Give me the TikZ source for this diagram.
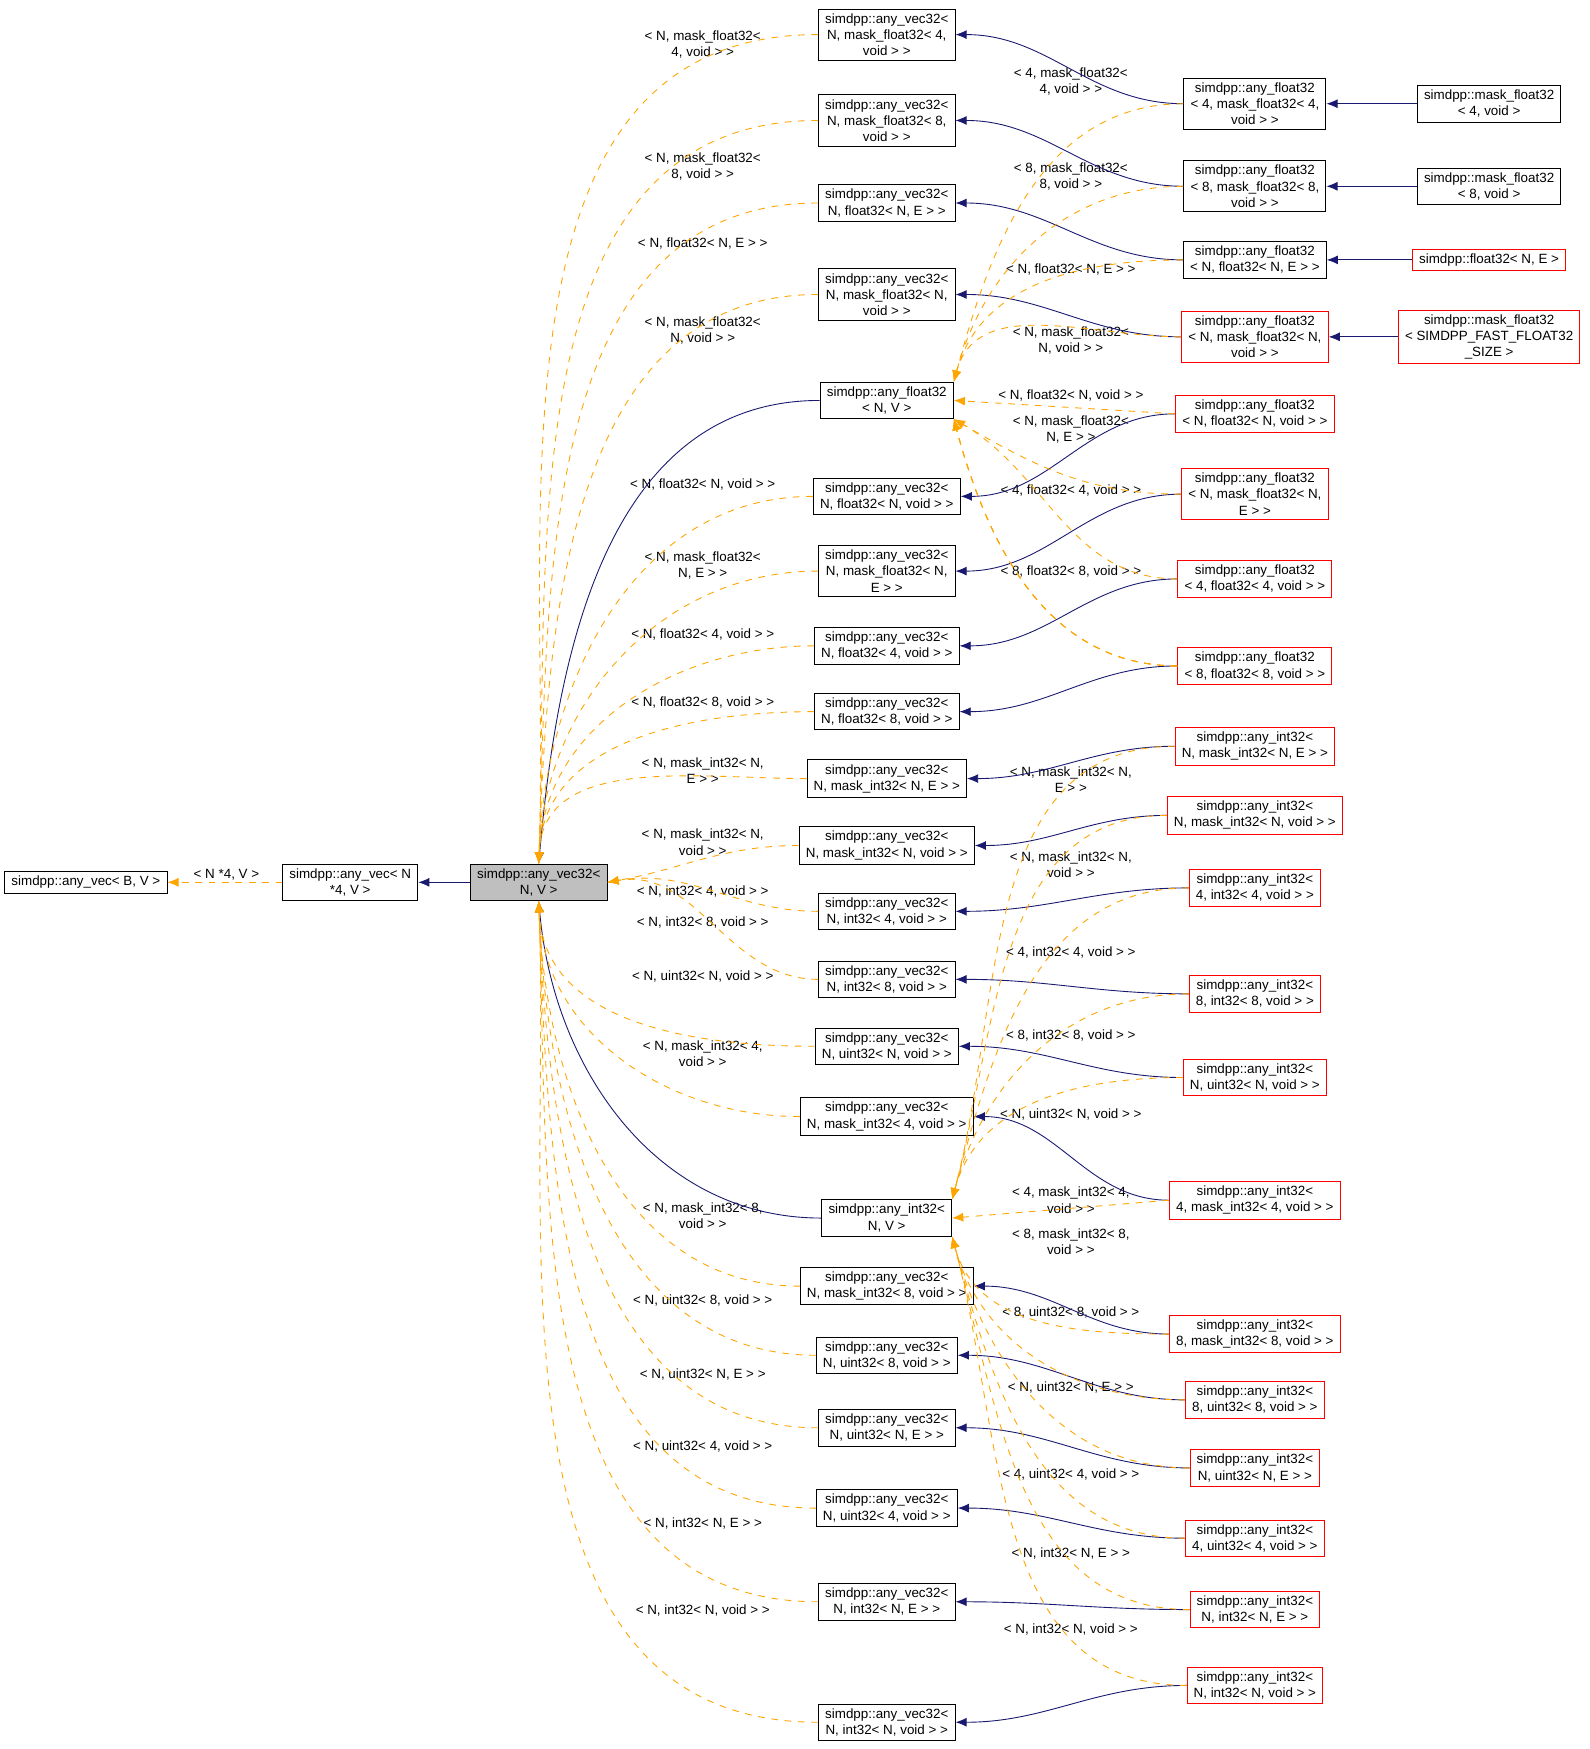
\documentclass[tikz,border=0pt]{standalone}
\usepackage{fontspec}
\setmainfont{Liberation Sans}
\usetikzlibrary{positioning, arrows.meta}

\definecolor{edgeblue}{RGB}{25,25,112}
\definecolor{tplorange}{RGB}{255,165,0}

\tikzset{
  cls/.style={draw=black, fill=white, align=center, inner xsep=3pt, inner ysep=2pt,
    font=\fontsize{6}{7.25}\selectfont},
  ext/.style={cls, draw=red},
  cur/.style={cls, fill=black!25},
  inh/.style={draw=edgeblue, -{Latex[length=5pt,width=4pt]}},
  tpl/.style={draw=tplorange, dashed, -{Latex[length=5pt,width=4pt]}},
  lbl/.style={align=center, inner sep=0pt, font=\fontsize{6}{7.25}\selectfont}
}

\begin{document}
\begin{tikzpicture}[x=0.5pt, y=-0.5pt]
\useasboundingbox (0,0) rectangle (1425,1568);

% left part
\node[cls] (vecB) at (77,791) {simdpp::any\_vec< B, V >};
\node[cls] (vecN) at (314,791) {simdpp::any\_vec< N\\ *4, V >};
\node[cur] (v32) at (483,791) {simdpp::any\_vec32<\\N, V >};

% middle column
\node[cls] (m1) at (795,31) {simdpp::any\_vec32<\\N, mask\_float32< 4,\\void > >};
\node[cls] (m2) at (795,108) {simdpp::any\_vec32<\\N, mask\_float32< 8,\\void > >};
\node[cls] (m3) at (795,182) {simdpp::any\_vec32<\\N, float32< N, E > >};
\node[cls] (m4) at (795,264) {simdpp::any\_vec32<\\N, mask\_float32< N,\\void > >};
\node[cls] (af32) at (795,359) {simdpp::any\_float32\\< N, V >};
\node[cls] (m6) at (795,445) {simdpp::any\_vec32<\\N, float32< N, void > >};
\node[cls] (m7) at (795,512) {simdpp::any\_vec32<\\N, mask\_float32< N,\\E > >};
\node[cls] (m8) at (795,579) {simdpp::any\_vec32<\\N, float32< 4, void > >};
\node[cls] (m9) at (795,638) {simdpp::any\_vec32<\\N, float32< 8, void > >};
\node[cls] (m10) at (795,698) {simdpp::any\_vec32<\\N, mask\_int32< N, E > >};
\node[cls] (m11) at (795,758) {simdpp::any\_vec32<\\N, mask\_int32< N, void > >};
\node[cls] (m12) at (795,817) {simdpp::any\_vec32<\\N, int32< 4, void > >};
\node[cls] (m13) at (795,878) {simdpp::any\_vec32<\\N, int32< 8, void > >};
\node[cls] (m14) at (795,938) {simdpp::any\_vec32<\\N, uint32< N, void > >};
\node[cls] (m15) at (795,1001) {simdpp::any\_vec32<\\N, mask\_int32< 4, void > >};
\node[cls] (ai32) at (795,1092) {simdpp::any\_int32<\\N, V >};
\node[cls] (m17) at (795,1153) {simdpp::any\_vec32<\\N, mask\_int32< 8, void > >};
\node[cls] (m18) at (795,1215) {simdpp::any\_vec32<\\N, uint32< 8, void > >};
\node[cls] (m19) at (795,1280) {simdpp::any\_vec32<\\N, uint32< N, E > >};
\node[cls] (m20) at (795,1352) {simdpp::any\_vec32<\\N, uint32< 4, void > >};
\node[cls] (m21) at (795,1436) {simdpp::any\_vec32<\\N, int32< N, E > >};
\node[cls] (m22) at (795,1544) {simdpp::any\_vec32<\\N, int32< N, void > >};

% right column
\node[cls] (r1) at (1125,93) {simdpp::any\_float32\\< 4, mask\_float32< 4,\\void > >};
\node[cls] (r2) at (1125,167) {simdpp::any\_float32\\< 8, mask\_float32< 8,\\void > >};
\node[cls] (r3) at (1125,233) {simdpp::any\_float32\\< N, float32< N, E > >};
\node[ext] (r4) at (1125,302) {simdpp::any\_float32\\< N, mask\_float32< N,\\void > >};
\node[ext] (r5) at (1125,371) {simdpp::any\_float32\\< N, float32< N, void > >};
\node[ext] (r6) at (1125,443) {simdpp::any\_float32\\< N, mask\_float32< N,\\E > >};
\node[ext] (r7) at (1125,519) {simdpp::any\_float32\\< 4, float32< 4, void > >};
\node[ext] (r8) at (1125,597) {simdpp::any\_float32\\< 8, float32< 8, void > >};
\node[ext] (r9) at (1125,669) {simdpp::any\_int32<\\N, mask\_int32< N, E > >};
\node[ext] (r10) at (1125,731) {simdpp::any\_int32<\\N, mask\_int32< N, void > >};
\node[ext] (r11) at (1125,796) {simdpp::any\_int32<\\4, int32< 4, void > >};
\node[ext] (r12) at (1125,891) {simdpp::any\_int32<\\8, int32< 8, void > >};
\node[ext] (r13) at (1125,966) {simdpp::any\_int32<\\N, uint32< N, void > >};
\node[ext] (r14) at (1125,1076) {simdpp::any\_int32<\\4, mask\_int32< 4, void > >};
\node[ext] (r15) at (1125,1196) {simdpp::any\_int32<\\8, mask\_int32< 8, void > >};
\node[ext] (r16) at (1125,1255) {simdpp::any\_int32<\\8, uint32< 8, void > >};
\node[ext] (r17) at (1125,1316) {simdpp::any\_int32<\\N, uint32< N, E > >};
\node[ext] (r18) at (1125,1379) {simdpp::any\_int32<\\4, uint32< 4, void > >};
\node[ext] (r19) at (1125,1443) {simdpp::any\_int32<\\N, int32< N, E > >};
\node[ext] (r20) at (1125,1511) {simdpp::any\_int32<\\N, int32< N, void > >};

% far right
\node[cls] (f1) at (1335,93) {simdpp::mask\_float32\\< 4, void >};
\node[cls] (f2) at (1335,167) {simdpp::mask\_float32\\< 8, void >};
\node[ext] (f3) at (1335,233) {simdpp::float32< N, E >};
\node[ext] (f4) at (1335,302) {simdpp::mask\_float32\\< SIMDPP\_FAST\_FLOAT32\\\_SIZE >};

% labels, left side
\node[lbl] (lN) at (203,784) {< N *4, V >};
\node[lbl] (l1) at (630,40) {< N, mask\_float32<\\4, void > >};
\node[lbl] (l2) at (630,149) {< N, mask\_float32<\\8, void > >};
\node[lbl] (l3) at (630,218) {< N, float32< N, E > >};
\node[lbl] (l4) at (630,296) {< N, mask\_float32<\\N, void > >};
\node[lbl] (l6) at (630,434) {< N, float32< N, void > >};
\node[lbl] (l7) at (630,507) {< N, mask\_float32<\\N, E > >};
\node[lbl] (l8) at (630,569) {< N, float32< 4, void > >};
\node[lbl] (l9) at (630,630) {< N, float32< 8, void > >};
\node[lbl] (l10) at (630,691) {< N, mask\_int32< N,\\E > >};
\node[lbl] (l11) at (630,755) {< N, mask\_int32< N,\\void > >};
\node[lbl] (l12) at (630,799) {< N, int32< 4, void > >};
\node[lbl] (l13) at (630,827) {< N, int32< 8, void > >};
\node[lbl] (l14) at (630,875) {< N, uint32< N, void > >};
\node[lbl] (l15) at (630,945) {< N, mask\_int32< 4,\\void > >};
\node[lbl] (l17) at (630,1090) {< N, mask\_int32< 8,\\void > >};
\node[lbl] (l18) at (630,1166) {< N, uint32< 8, void > >};
\node[lbl] (l19) at (630,1232) {< N, uint32< N, E > >};
\node[lbl] (l20) at (630,1297) {< N, uint32< 4, void > >};
\node[lbl] (l21) at (630,1366) {< N, int32< N, E > >};
\node[lbl] (l22) at (630,1444) {< N, int32< N, void > >};

% labels, right side
\node[lbl] (k1) at (960,73) {< 4, mask\_float32<\\4, void > >};
\node[lbl] (k2) at (960,158) {< 8, mask\_float32<\\8, void > >};
\node[lbl] (k3) at (960,242) {< N, float32< N, E > >};
\node[lbl] (k4) at (960,305) {< N, mask\_float32<\\N, void > >};
\node[lbl] (k5) at (960,355) {< N, float32< N, void > >};
\node[lbl] (k6) at (960,385) {< N, mask\_float32<\\N, E > >};
\node[lbl] (k7) at (960,440) {< 4, float32< 4, void > >};
\node[lbl] (k8) at (960,512) {< 8, float32< 8, void > >};
\node[lbl] (k9) at (960,699) {< N, mask\_int32< N,\\E > >};
\node[lbl] (k10) at (960,775) {< N, mask\_int32< N,\\void > >};
\node[lbl] (k11) at (960,854) {< 4, int32< 4, void > >};
\node[lbl] (k12) at (960,928) {< 8, int32< 8, void > >};
\node[lbl] (k13) at (960,999) {< N, uint32< N, void > >};
\node[lbl] (k14) at (960,1076) {< 4, mask\_int32< 4,\\void > >};
\node[lbl] (k15) at (960,1113) {< 8, mask\_int32< 8,\\void > >};
\node[lbl] (k16) at (960,1177) {< 8, uint32< 8, void > >};
\node[lbl] (k17) at (960,1244) {< N, uint32< N, E > >};
\node[lbl] (k18) at (960,1322) {< 4, uint32< 4, void > >};
\node[lbl] (k19) at (960,1393) {< N, int32< N, E > >};
\node[lbl] (k20) at (960,1461) {< N, int32< N, void > >};

% edges
\draw[tpl] (vecN) -- (vecB);
\draw[inh] (v32) -- (vecN);
\draw[inh] (af32.west) to[out=180,in=85] (v32.north);
\draw[inh] (ai32.west) to[out=180,in=-85] (v32.south);

\foreach \m in {m1,m2,m3,m4,m6,m7,m8,m9,m10}
  \draw[tpl] (\m.west) to[out=180,in=88] (v32.north);
\foreach \m in {m11,m12,m13}
  \draw[tpl] (\m.west) to[out=180,in=10] (v32.east);
\foreach \m in {m14,m15,m17,m18,m19,m20,m21,m22}
  \draw[tpl] (\m.west) to[out=180,in=-88] (v32.south);

\foreach \r/\m in {r1/m1,r2/m2,r3/m3,r4/m4,r5/m6,r6/m7,r7/m8,r8/m9,r9/m10,r10/m11,
    r11/m12,r12/m13,r13/m14,r14/m15,r15/m17,r16/m18,r17/m19,r18/m20,r19/m21,r20/m22}
  \draw[inh] (\r.west) to[out=180,in=0] (\m.east);

\foreach \r in {r1,r2,r3,r4}
  \draw[tpl] (\r.west) to[out=180,in=75] (af32.north east);
\draw[tpl] (r5.west) -- (af32.east);
\foreach \r in {r6,r7,r8}
  \draw[tpl] (r8.west) to[out=180,in=-75] (af32.south east);
\foreach \r in {r6,r7}
  \draw[tpl] (\r.west) to[out=180,in=-30] (af32.south east);

\foreach \r in {r9,r10,r11,r12,r13}
  \draw[tpl] (\r.west) to[out=180,in=75] (ai32.north east);
\draw[tpl] (r14.west) -- (ai32.east);
\foreach \r in {r15,r16,r17,r18,r19,r20}
  \draw[tpl] (\r.west) to[out=180,in=-75] (ai32.south east);

\foreach \f/\r in {f1/r1,f2/r2,f3/r3,f4/r4}
  \draw[inh] (\f) -- (\r);
\end{tikzpicture}
\end{document}
